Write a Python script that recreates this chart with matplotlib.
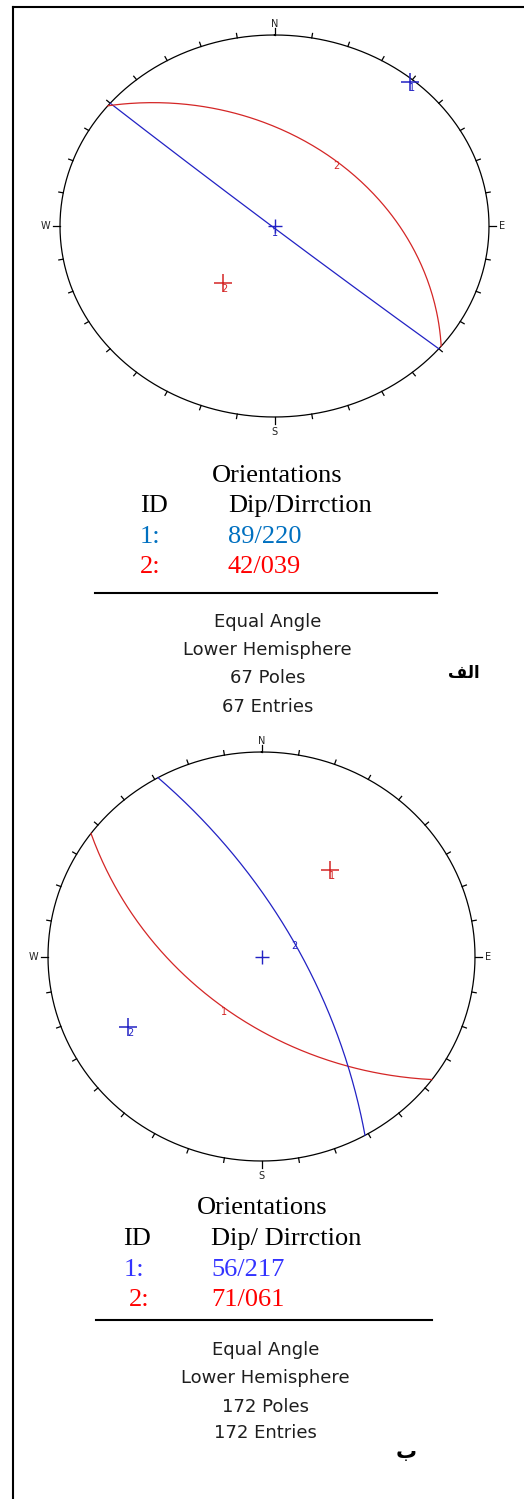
import numpy as np
import matplotlib
matplotlib.use("Agg")
import matplotlib.pyplot as plt
from matplotlib.lines import Line2D
from matplotlib.transforms import offset_copy

W, H = 524, 1499

# --- net (a) ---
dips_a = [89, 42]
dirs_a = [220, 39]
ids_a = ["1", "2"]
net_cols_a = ["#2222c4", "#d42626"]
legend_a = ["89/220", "42/039"]
legend_cols_a = ["#0070c0", "#ff0000"]
info_a = ["Equal Angle", "Lower Hemisphere", "67 Poles", "67 Entries"]

# --- net (b) ---
dips_b = [56, 71]
dirs_b = [217, 61]
ids_b = ["1", "2"]
net_cols_b = ["#d42626", "#2222c4"]
legend_b = ["56/217", "71/061"]
legend_cols_b = ["#3333ff", "#ff0000"]
info_b = ["Equal Angle", "Lower Hemisphere", "172 Poles", "172 Entries"]

cardinals = ["N", "E", "S", "W"]


def proj(trend, plunge):
    """equal angle, lower hemisphere"""
    r = np.tan(np.radians(90 - np.asarray(plunge)) / 2)
    t = np.radians(trend)
    return r * np.sin(t), r * np.cos(t)


def great_circle(dip, ddir, n=181):
    s = np.radians(ddir - 90)
    d = np.radians(dip)
    dd = np.radians(ddir)
    sv = np.array([np.cos(s), np.sin(s), 0.0])  # N, E, down
    dv = np.array([np.cos(dd) * np.cos(d), np.sin(dd) * np.cos(d), np.sin(d)])
    t = np.linspace(0, np.pi, n)
    v = np.outer(np.cos(t), sv) + np.outer(np.sin(t), dv)
    plunge = np.degrees(np.arcsin(np.clip(v[:, 2], -1, 1)))
    trend = np.degrees(np.arctan2(v[:, 1], v[:, 0]))
    return proj(trend, plunge)


fig = plt.figure(figsize=(W / 100, H / 100), dpi=100)


def ftext(x, y, s, **kw):
    fig.text(x / W, 1 - y / H, s, **kw)


def draw_net(box, dips, dirs, ids, cols):
    cx, cy, rx, ry = box
    ax = fig.add_axes([(cx - rx) / W, 1 - (cy + ry) / H, 2 * rx / W, 2 * ry / H])
    ax.set_xlim(-1, 1)
    ax.set_ylim(-1, 1)
    ax.axis("off")

    a = np.linspace(0, 2 * np.pi, 361)
    ax.plot(np.sin(a), np.cos(a), color="k", lw=0.9, clip_on=False)
    for az in range(0, 360, 10):
        L = 7 if az % 90 == 0 else 4.5
        s, c = np.sin(np.radians(az)), np.cos(np.radians(az))
        ax.plot([s, s + L * s / rx], [c, c + L * c / ry], color="k", lw=0.9, clip_on=False)

    # cardinal letters
    offs = [(0, 11), (13, 0), (0, -15), (-15, 0)]
    for lab, az, (ox, oy) in zip(cardinals, [0, 90, 180, 270], offs):
        s, c = np.sin(np.radians(az)), np.cos(np.radians(az))
        ax.text(s + ox / rx, c + oy / ry, lab, ha="center", va="center",
                fontsize=7, color="#222222", family="DejaVu Sans")

    # centre cross
    ax.plot(0, 0, marker="+", ms=10, mew=1.0, color="#2222c4", clip_on=False)

    lab_tr = offset_copy(ax.transData, fig=fig, x=2, y=-6, units="dots")
    for dip, dd, i, col in zip(dips, dirs, ids, cols):
        x, y = great_circle(dip, dd)
        ax.plot(x, y, color=col, lw=0.9, clip_on=False)
        mx, my = proj(dd, dip)
        ax.text(mx, my, i, transform=lab_tr, ha="center", va="center",
                fontsize=7, color=col)
        px, py = proj(dd + 180, 90 - dip)
        ax.plot(px, py, marker="+", ms=13, mew=1.1, color=col, clip_on=False)
        ax.text(px, py, i, transform=lab_tr, ha="center", va="center",
                fontsize=7, color=col)
    return ax


def draw_legend(ys, xs, header, vals, cols, line, info, info_x, info_ys):
    serif = dict(family="Liberation Serif", fontsize=19, va="baseline")
    ftext(xs[0], ys[0], "Orientations", color="k", **serif)
    ftext(xs[1], ys[1], "ID", color="k", **serif)
    ftext(xs[2], ys[1], header, color="k", **serif)
    for k in range(len(vals)):
        ftext(xs[3 + k], ys[2 + k], f"{k + 1}:", color=cols[k], **serif)
        ftext(xs[2], ys[2 + k], vals[k], color=cols[k], **serif)
    y, x0, x1 = line
    fig.add_artist(Line2D([x0 / W, x1 / W], [1 - y / H] * 2, color="k", lw=1.5,
                          transform=fig.transFigure))
    for s, yy in zip(info, info_ys):
        ftext(info_x, yy, s, ha="center", va="baseline", fontsize=13,
              family="DejaVu Sans", color="#1e1e1e")


draw_net((274.5, 226, 214.5, 191), dips_a, dirs_a, ids_a, net_cols_a)
draw_net((261.5, 956.5, 213.5, 204.5), dips_b, dirs_b, ids_b, net_cols_b)

draw_legend([482, 512, 543, 573], [212, 140, 228, 140, 140], "Dip/Dirrction",
            legend_a, legend_cols_a, (593, 95, 437), info_a, 267.5, [627, 655, 683, 712])
draw_legend([1214, 1245, 1276, 1306], [197, 123, 211, 124, 129], "Dip/ Dirrction",
            legend_b, legend_cols_b, (1320, 96, 432), info_b, 265.5, [1355, 1383, 1412, 1438])

# arabic panel labels (visual order, presentation forms)
ftext(464, 678, "\uFED2\uFEDF\uFE8D", ha="center", va="baseline", fontsize=12,
      fontweight="bold", family="DejaVu Sans", color="k")
ftext(406, 1458, "\u0628", ha="center", va="baseline", fontsize=15,
      fontweight="bold", family="DejaVu Sans", color="k")

# frame: top and left edges only
fig.add_artist(Line2D([13 / W, 1], [1 - 7 / H] * 2, color="k", lw=1.5, transform=fig.transFigure))
fig.add_artist(Line2D([13 / W] * 2, [0, 1 - 7 / H], color="k", lw=1.5, transform=fig.transFigure))

fig.savefig("out.png", dpi=100)
